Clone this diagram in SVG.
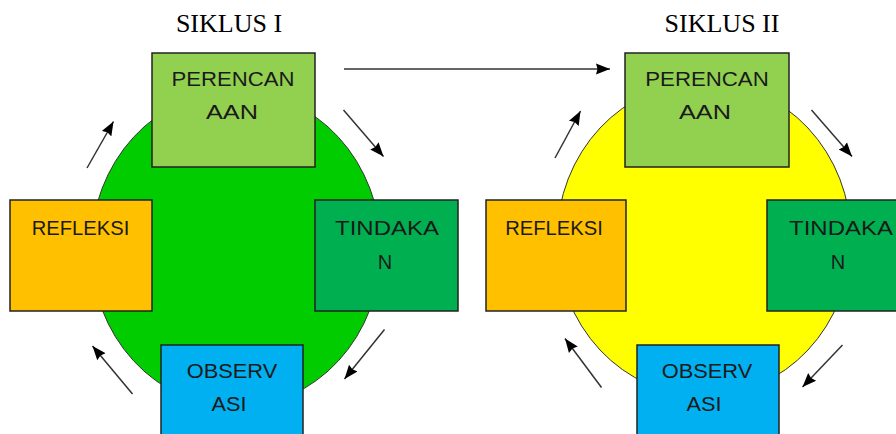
<svg xmlns="http://www.w3.org/2000/svg" width="896" height="434" viewBox="0 0 896 434">
  <style>
    .title { font-family: "Liberation Serif", "Times New Roman", serif; font-size: 26px; fill: #000; text-anchor: middle; }
    .lbl { font-family: "Liberation Sans", Arial, sans-serif; font-size: 20px; fill: #1a1a1a; text-anchor: middle; }
    .box { stroke: #222; stroke-width: 1.5; }
    .per { fill: #92D050; }
    .ref { fill: #FFC000; }
    .tin { fill: #00B050; }
    .obs { fill: #00B0F0; }
    .cyc { stroke: #333; stroke-width: 1; }
    .arr { stroke: #333; stroke-width: 1.5; fill: none; marker-end: url(#head); }
  </style>
  <defs>
    <marker id="head" markerUnits="userSpaceOnUse" markerWidth="15" markerHeight="13" viewBox="0 0 15 13" refX="14" refY="6.5" orient="auto">
      <path d="M0,1 L14,6.5 L0,12 L1.5,6.5 z" fill="#000"/>
    </marker>
  </defs>
  <rect width="896" height="434" fill="#fff"/>

  <text class="title" x="229" y="32">SIKLUS I</text>
  <text class="title" x="722" y="32">SIKLUS II</text>

  <g id="cycle1-circle">
    <ellipse class="cyc" cx="236" cy="249" rx="145" ry="158" fill="#00CC00"/>
  </g>
  <g id="cycle2-circle">
    <ellipse class="cyc" cx="704" cy="239" rx="147" ry="157" fill="#FFFF00"/>
  </g>

  <g id="connectors">
    <line class="arr" x1="87" y1="168" x2="113.5" y2="121.5"/>
    <line class="arr" x1="343.5" y1="110" x2="383.5" y2="156.5"/>
    <line class="arr" x1="384.5" y1="329.5" x2="344.5" y2="379"/>
    <line class="arr" x1="132.5" y1="394" x2="92.5" y2="346"/>
    <line class="arr" x1="344" y1="69" x2="610" y2="69"/>
    <line class="arr" x1="555" y1="158" x2="580.5" y2="111"/>
    <line class="arr" x1="811.5" y1="110" x2="852" y2="156.5"/>
    <line class="arr" x1="842.5" y1="345" x2="802.5" y2="387"/>
    <line class="arr" x1="601.5" y1="387.5" x2="565" y2="338.5"/>
  </g>

  <g id="perencanaan1">
    <rect class="box per" x="152" y="53" width="163" height="114"/>
    <text class="lbl" x="233" y="85.5" textLength="123" lengthAdjust="spacingAndGlyphs">PERENCAN</text>
    <text class="lbl" x="232" y="119" textLength="52" lengthAdjust="spacingAndGlyphs">AAN</text>
  </g>
  <g id="refleksi1">
    <rect class="box ref" x="10" y="200" width="142" height="111"/>
    <text class="lbl" x="80.5" y="234.5" textLength="97.5" lengthAdjust="spacingAndGlyphs">REFLEKSI</text>
  </g>
  <g id="tindakan1">
    <rect class="box tin" x="315" y="200" width="143" height="111"/>
    <text class="lbl" x="387" y="234.5" textLength="104" lengthAdjust="spacingAndGlyphs">TINDAKA</text>
    <text class="lbl" x="385" y="268.5">N</text>
  </g>
  <g id="observasi1">
    <rect class="box obs" x="161" y="345" width="142" height="100"/>
    <text class="lbl" x="232" y="378" textLength="90.5" lengthAdjust="spacingAndGlyphs">OBSERV</text>
    <text class="lbl" x="229" y="411" textLength="35" lengthAdjust="spacingAndGlyphs">ASI</text>
  </g>

  <g id="perencanaan2">
    <rect class="box per" x="625" y="53" width="164" height="114"/>
    <text class="lbl" x="707" y="85.5" textLength="123.5" lengthAdjust="spacingAndGlyphs">PERENCAN</text>
    <text class="lbl" x="705" y="119" textLength="52" lengthAdjust="spacingAndGlyphs">AAN</text>
  </g>
  <g id="refleksi2">
    <rect class="box ref" x="486" y="200" width="140" height="111"/>
    <text class="lbl" x="554" y="234.5" textLength="97.5" lengthAdjust="spacingAndGlyphs">REFLEKSI</text>
  </g>
  <g id="tindakan2">
    <rect class="box tin" x="767" y="200" width="143" height="111"/>
    <text class="lbl" x="841" y="234.5" textLength="104" lengthAdjust="spacingAndGlyphs">TINDAKA</text>
    <text class="lbl" x="838" y="268.5">N</text>
  </g>
  <g id="observasi2">
    <rect class="box obs" x="637" y="345" width="142" height="100"/>
    <text class="lbl" x="707" y="378" textLength="90.5" lengthAdjust="spacingAndGlyphs">OBSERV</text>
    <text class="lbl" x="704" y="411" textLength="35" lengthAdjust="spacingAndGlyphs">ASI</text>
  </g>
</svg>
